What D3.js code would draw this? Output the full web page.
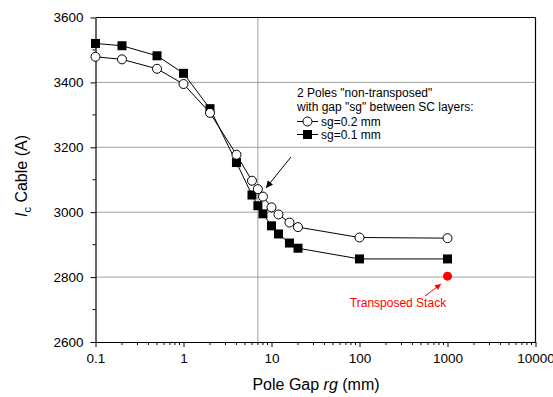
<!DOCTYPE html>
<meta charset="utf-8">
<head>
<style>
body { margin: 0; background: #fff; }
svg { display: block; }
text { font-family: Arial, "Liberation Sans", sans-serif; fill: #000; }
.tick text { font-size: 13.5px; }
</style>
<script src="https://d3js.org/d3.v7.min.js"></script>
</head>
<body>
<svg width="553" height="397"></svg>
<script>

// pole gap rg (mm)
var gaps = [0.1, 0.2, 0.5, 1, 2, 4, 6, 7, 8, 10, 12, 16, 20, 100, 1000];
// Ic cable (A), sg = 0.2 mm (open circles)
var sg02 = [3479, 3471, 3442, 3395, 3306, 3177, 3097, 3071, 3048, 3015, 2993, 2968, 2954, 2922, 2920];
// Ic cable (A), sg = 0.1 mm (filled squares)
var sg01 = [3520, 3513, 3482, 3428, 3319, 3153, 3053, 3020, 2995, 2958, 2933, 2905, 2889, 2856, 2856];
// transposed stack
var transposed = [{x: 1000, y: 2803}];

var xTicks = [0.1, 1, 10, 100, 1000, 10000];
var xTickLabels = ["0.1", "1", "10", "100", "1000", "10000"];
var yTicks = [2600, 2800, 3000, 3200, 3400, 3600];
var gridY = [2800, 3000, 3200, 3400];
var gridX = [7];

var svg = d3.select("svg"),
    width = +svg.attr("width"),
    height = +svg.attr("height");

var margin = {top: 17.5, right: 17.5, bottom: 55, left: 95.5};

var x = d3.scaleLog()
    .domain([0.1, 10000])
    .range([margin.left, width - margin.right]);

var y = d3.scaleLinear()
    .domain([2600, 3600])
    .range([height - margin.bottom, margin.top]);

// arrow heads
var defs = svg.append("defs");
defs.append("marker")
    .attr("id", "arrowBlack")
    .attr("viewBox", "0 0 10 10")
    .attr("refX", 10).attr("refY", 5)
    .attr("markerWidth", 9).attr("markerHeight", 7)
    .attr("markerUnits", "userSpaceOnUse")
    .attr("orient", "auto")
  .append("path").attr("d", "M0,0L10,5L0,10z").attr("fill", "#000");
defs.append("marker")
    .attr("id", "arrowRed")
    .attr("viewBox", "0 0 10 10")
    .attr("refX", 10).attr("refY", 5)
    .attr("markerWidth", 8).attr("markerHeight", 6)
    .attr("markerUnits", "userSpaceOnUse")
    .attr("orient", "auto")
  .append("path").attr("d", "M0,0L10,5L0,10z").attr("fill", "#ff0000");

// grid lines
svg.append("g")
  .selectAll("line.gy")
  .data(gridY)
  .enter().append("line")
    .attr("x1", margin.left).attr("x2", width - margin.right)
    .attr("y1", d => y(d)).attr("y2", d => y(d))
    .attr("stroke", "#a0a0a0").attr("stroke-width", 1);

svg.append("g")
  .selectAll("line.gx")
  .data(gridX)
  .enter().append("line")
    .attr("x1", d => x(d)).attr("x2", d => x(d))
    .attr("y1", margin.top).attr("y2", height - margin.bottom)
    .attr("stroke", "#a0a0a0").attr("stroke-width", 1);

// minor ticks
var xMinor = [];
[0.1, 1, 10, 100, 1000].forEach(function(dec) {
  for (var k = 2; k <= 9; k++) xMinor.push(dec * k);
});
var yMinor = d3.range(2700, 3600, 200);

var xAxis = svg.append("g")
    .attr("transform", "translate(0," + y(2600) + ")")
    .call(d3.axisBottom(x).tickValues(xTicks).tickFormat((d, i) => xTickLabels[i]).tickSize(5).tickSizeOuter(0).tickPadding(6));
xAxis.append("g").selectAll("line")
  .data(xMinor)
  .enter().append("line")
    .attr("x1", d => x(d)).attr("x2", d => x(d))
    .attr("y1", 0).attr("y2", 3)
    .attr("stroke", "#000");

var yAxis = svg.append("g")
    .attr("transform", "translate(" + x(0.1) + ",0)")
    .call(d3.axisLeft(y).tickValues(yTicks).tickFormat(d3.format("d")).tickSize(5).tickSizeOuter(0).tickPadding(7));
yAxis.append("g").selectAll("line")
  .data(yMinor)
  .enter().append("line")
    .attr("x1", 0).attr("x2", -3)
    .attr("y1", d => y(d)).attr("y2", d => y(d))
    .attr("stroke", "#000");

svg.selectAll(".tick text").attr("fill", "#000");
svg.selectAll(".domain").attr("stroke", "#000").attr("stroke-width", 1.2);

// top and right frame
svg.append("line")
    .attr("x1", margin.left).attr("x2", width - margin.right)
    .attr("y1", margin.top).attr("y2", margin.top)
    .attr("stroke", "#000").attr("stroke-width", 1.2);
svg.append("line")
    .attr("x1", width - margin.right).attr("x2", width - margin.right)
    .attr("y1", margin.top).attr("y2", height - margin.bottom)
    .attr("stroke", "#000").attr("stroke-width", 1.2);

// series
var line = d3.line()
    .x(d => x(d[0]))
    .y(d => y(d[1]));

var pts02 = gaps.map((g, i) => [g, sg02[i]]);
var pts01 = gaps.map((g, i) => [g, sg01[i]]);

svg.append("path").datum(pts01)
    .attr("d", line).attr("fill", "none").attr("stroke", "#000").attr("stroke-width", 1);
svg.append("path").datum(pts02)
    .attr("d", line).attr("fill", "none").attr("stroke", "#000").attr("stroke-width", 1);

svg.append("g").selectAll("rect")
  .data(pts01)
  .enter().append("rect")
    .attr("x", d => x(d[0]) - 4.5).attr("y", d => y(d[1]) - 4.5)
    .attr("width", 9).attr("height", 9)
    .attr("fill", "#000");

svg.append("g").selectAll("circle")
  .data(pts02)
  .enter().append("circle")
    .attr("cx", d => x(d[0])).attr("cy", d => y(d[1]))
    .attr("r", 4.5)
    .attr("fill", "#fff").attr("stroke", "#000").attr("stroke-width", 1);

svg.append("g").selectAll("circle")
  .data(transposed)
  .enter().append("circle")
    .attr("cx", d => x(d.x)).attr("cy", d => y(d.y))
    .attr("r", 4.5)
    .attr("fill", "#ff0000");

// annotation arrows
svg.append("line")
    .attr("x1", 291).attr("y1", 157)
    .attr("x2", 266).attr("y2", 188)
    .attr("stroke", "#000").attr("stroke-width", 1)
    .attr("marker-end", "url(#arrowBlack)");

svg.append("line")
    .attr("x1", 425).attr("y1", 296)
    .attr("x2", 441).attr("y2", 284)
    .attr("stroke", "#ff0000").attr("stroke-width", 1)
    .attr("marker-end", "url(#arrowRed)");

svg.append("text")
    .attr("x", 398).attr("y", 307)
    .attr("text-anchor", "middle")
    .style("font-size", "12px")
    .style("fill", "#ff0000")
    .text("Transposed Stack");

// legend
var legend = svg.append("g").attr("transform", "translate(297,0)");
legend.append("text").attr("x", 0).attr("y", 97).style("font-size", "12px")
    .text("2 Poles \"non-transposed\"");
legend.append("text").attr("x", 0).attr("y", 111).style("font-size", "12px")
    .text("with gap \"sg\" between SC layers:");

legend.append("line").attr("x1", 0).attr("x2", 21).attr("y1", 121.5).attr("y2", 121.5)
    .attr("stroke", "#000");
legend.append("circle").attr("cx", 10.5).attr("cy", 121.5).attr("r", 4.5)
    .attr("fill", "#fff").attr("stroke", "#000");
legend.append("text").attr("x", 24).attr("y", 125.5).style("font-size", "12px")
    .text("sg=0.2 mm");

legend.append("line").attr("x1", 0).attr("x2", 21).attr("y1", 134.5).attr("y2", 134.5)
    .attr("stroke", "#000");
legend.append("rect").attr("x", 6).attr("y", 130).attr("width", 9).attr("height", 9)
    .attr("fill", "#000");
legend.append("text").attr("x", 24).attr("y", 138.5).style("font-size", "12px")
    .text("sg=0.1 mm");

// axis titles
var xt = svg.append("text")
    .attr("x", 316).attr("y", 390)
    .attr("text-anchor", "middle")
    .style("font-size", "16px");
xt.append("tspan").text("Pole Gap ");
xt.append("tspan").style("font-style", "italic").text("rg");
xt.append("tspan").text(" (mm)");

var yt = svg.append("text")
    .attr("transform", "translate(27,176) rotate(-90)")
    .attr("text-anchor", "middle")
    .style("font-size", "16px");
yt.append("tspan").style("font-style", "italic").text("I");
yt.append("tspan").style("font-size", "11px").attr("dy", 4).text("c");
yt.append("tspan").attr("dy", -4).text(" Cable (A)");

</script>
</body>
